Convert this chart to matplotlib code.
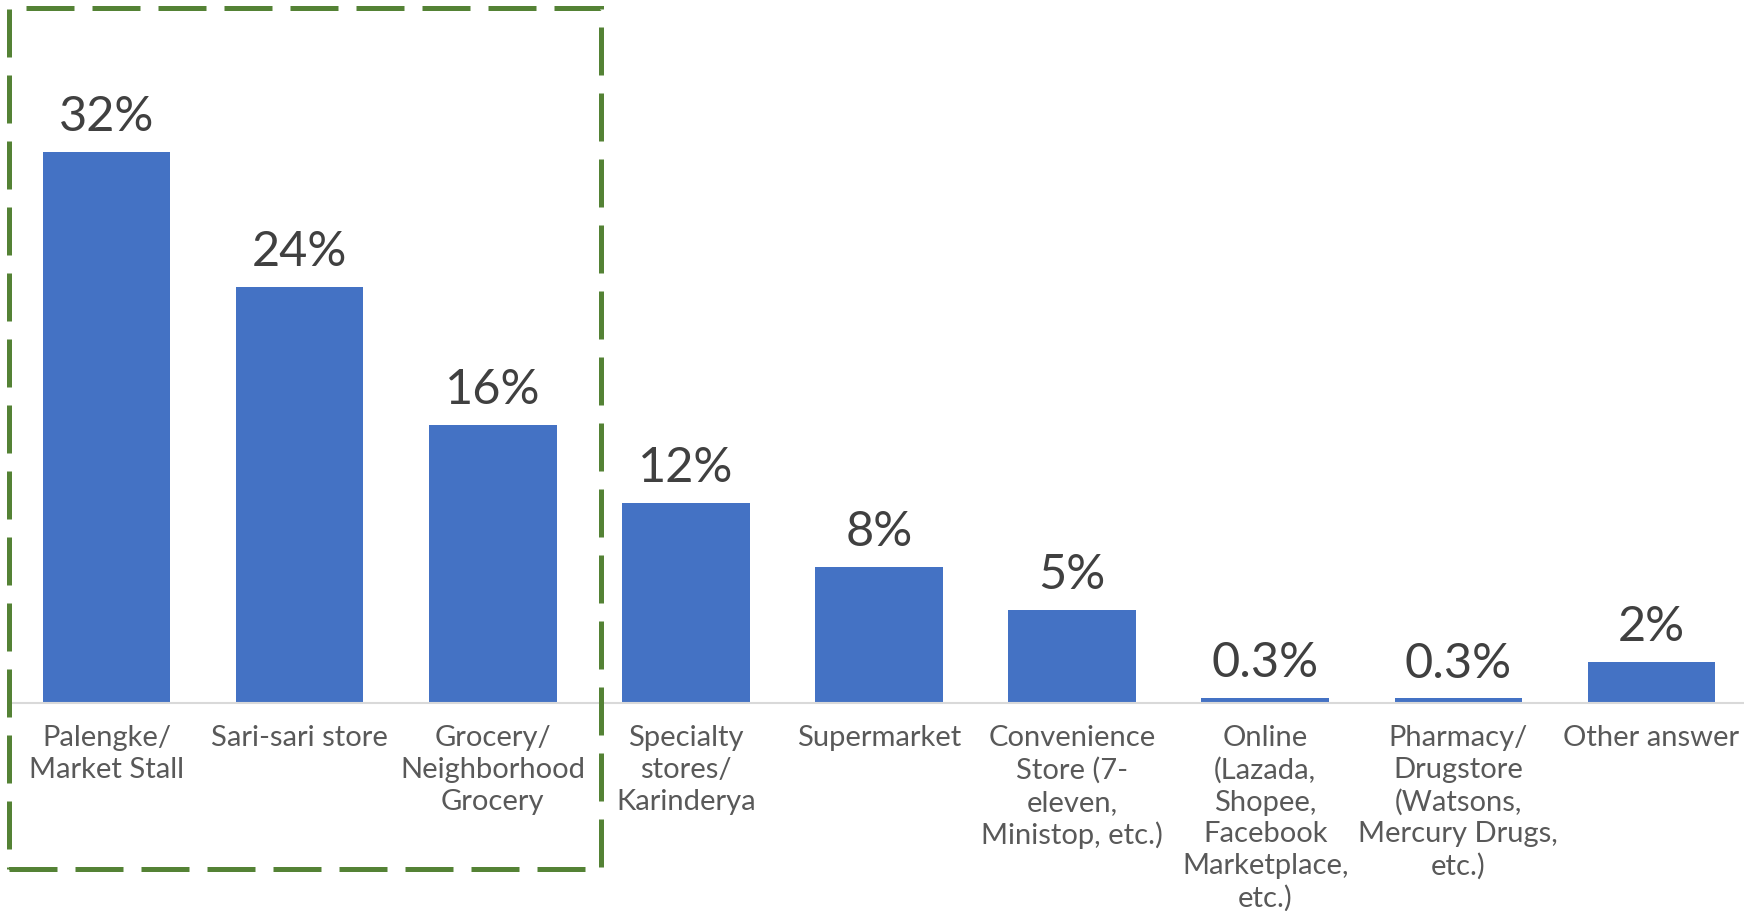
import matplotlib.pyplot as plt
from matplotlib.patches import Rectangle

# Where shoppers buy: share of respondents per store type
categories = [
    "Palengke/\nMarket Stall",
    "Sari-sari store",
    "Grocery/\nNeighborhood\nGrocery",
    "Specialty\nstores/\nKarinderya",
    "Supermarket",
    "Convenience\nStore (7-\neleven,\nMinistop, etc.)",
    "Online\n(Lazada,\nShopee,\nFacebook\nMarketplace,\netc.)",
    "Pharmacy/\nDrugstore\n(Watsons,\nMercury Drugs,\netc.)",
    "Other answer",
]
shares = [31.9, 24.1, 16.1, 11.6, 7.9, 5.4, 0.3, 0.28, 2.4]

BAR_COLOR = "#4472c4"
BOX_COLOR = "#548235"


def fmt_share(v):
    return f"{v:.0f}%" if v >= 1 else f"{v:.1f}%"


plt.rcParams['font.family'] = ['Lato', 'DejaVu Sans']

fig = plt.figure(figsize=(17.44, 9.11), dpi=100)
ax = fig.add_axes([10 / 1744, 1 - 703 / 911, 1738 / 1744, 622 / 911])

x = range(len(categories))
bars = ax.bar(x, shares, width=0.66, color=BAR_COLOR, zorder=2)

for rect, v in zip(bars, shares):
    ax.annotate(fmt_share(v),
                xy=(rect.get_x() + rect.get_width() / 2, rect.get_height()),
                xytext=(0, 9), textcoords='offset points',
                ha='center', va='bottom', fontsize=35, color='#404040')

ax.set_xlim(-0.5, len(categories) - 0.5)
ax.set_ylim(0, 36)
ax.set_xticks(list(x))
ax.set_xticklabels(categories, fontsize=21, color='#595959', linespacing=1.27)
ax.tick_params(axis='x', length=0, pad=16)
ax.set_yticks([])

for side in ('top', 'left', 'right'):
    ax.spines[side].set_visible(False)
ax.spines['bottom'].set_color('#d9d9d9')
ax.spines['bottom'].set_linewidth(1.5)

# dashed highlight round the three leading store types
box = Rectangle((9 / 1744, 1 - 869 / 911), 592 / 1744, 861 / 911,
                transform=fig.transFigure, fill=False,
                edgecolor=BOX_COLOR, linewidth=3.6,
                linestyle=(0, (9.6, 3.6)), zorder=5)
fig.patches.append(box)

fig.savefig('out.png', dpi=100)
